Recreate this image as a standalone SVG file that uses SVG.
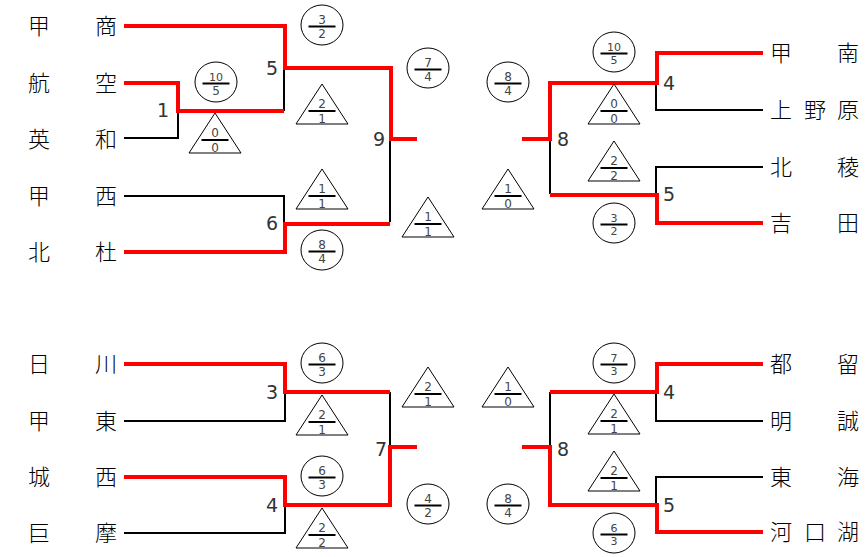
<svg xmlns="http://www.w3.org/2000/svg" width="865" height="557" viewBox="0 0 865 557">
<defs>
<style>
.bg{fill:#fff}
.red{fill:none;stroke:#f00;stroke-width:4;stroke-linejoin:miter}
.blk{fill:none;stroke:#000;stroke-width:2}
.nm{font-family:"Noto Sans CJK JP","Noto Sans CJK SC",sans-serif;font-size:22px;font-weight:300;fill:#000;text-anchor:middle}
.rd{font-family:"DejaVu Sans","Liberation Sans",sans-serif;font-size:19px;fill:#333}
.sh{fill:#fff;stroke:#000;stroke-width:1}
.fr{font-family:"DejaVu Sans","Liberation Sans",sans-serif;font-size:12px;fill:#444;text-anchor:middle}
.fs{font-size:11px}
.bar{stroke:#000;stroke-width:2}
</style>
<g id="circ"><ellipse class="sh" cx="0" cy="0" rx="21" ry="20"/><line class="bar" x1="-13.5" y1="1.5" x2="13.5" y2="1.5"/></g>
<g id="tri"><polygon class="sh" points="0,0 26,40 -26,40"/><line class="bar" x1="-13.5" y1="27" x2="13.5" y2="27"/></g>
</defs>
<rect class="bg" x="0" y="0" width="865" height="557"/>

<g id="connectors">
<path class="blk" d="M124,138 H178 V111"/>
<path class="blk" d="M284,68 V111"/>
<path class="blk" d="M124,196 H284 V224"/>
<path class="blk" d="M390,139 V222"/>
<path class="blk" d="M656,83 V110 H763"/>
<path class="blk" d="M550,139 V194"/>
<path class="blk" d="M763,167 H656 V195"/>
<path class="blk" d="M124,421 H285 V392"/>
<path class="blk" d="M124,533 H285 V505"/>
<path class="blk" d="M390,392 V447"/>
<path class="blk" d="M550,447 V392"/>
<path class="blk" d="M656,392 V421 H763"/>
<path class="blk" d="M763,477 H656 V504"/>

<path class="red" d="M124,26 H285 V68 H391 V139 H417"/>
<path class="red" d="M124,83 H178 V111 H284"/>
<path class="red" d="M124,252 H285 V224 H390"/>
<path class="red" d="M522,139 H550 V83 H657 V53 H763"/>
<path class="red" d="M550,195 H657 V223 H763"/>
<path class="red" d="M124,364 H285 V392 H390"/>
<path class="red" d="M124,477 H285 V505 H390 V447 H417"/>
<path class="red" d="M522,447 H550 V505 H657 V532 H763"/>
<path class="red" d="M550,392 H657 V364 H763"/>
</g>

<g id="round-labels">
<text class="rd" x="169" y="117" text-anchor="end">1</text>
<text class="rd" x="278" y="75" text-anchor="end">5</text>
<text class="rd" x="278" y="230" text-anchor="end">6</text>
<text class="rd" x="385" y="146" text-anchor="end">9</text>
<text class="rd" x="557" y="146">8</text>
<text class="rd" x="663" y="90">4</text>
<text class="rd" x="663" y="201">5</text>
<text class="rd" x="278" y="399" text-anchor="end">3</text>
<text class="rd" x="278" y="512" text-anchor="end">4</text>
<text class="rd" x="387" y="456" text-anchor="end">7</text>
<text class="rd" x="557" y="456">8</text>
<text class="rd" x="663" y="399">4</text>
<text class="rd" x="663" y="512">5</text>
</g>

<g id="team-kofu-sho"><text class="nm" x="39" y="34">甲</text><text class="nm" x="106" y="34">商</text></g>
<g id="team-koku"><text class="nm" x="39" y="91">航</text><text class="nm" x="106" y="91">空</text></g>
<g id="team-eiwa"><text class="nm" x="39" y="147">英</text><text class="nm" x="106" y="147">和</text></g>
<g id="team-kosai"><text class="nm" x="39" y="204">甲</text><text class="nm" x="106" y="204">西</text></g>
<g id="team-hokuto"><text class="nm" x="39" y="260">北</text><text class="nm" x="106" y="260">杜</text></g>
<g id="team-konan"><text class="nm" x="781" y="61">甲</text><text class="nm" x="848" y="61">南</text></g>
<g id="team-uenohara"><text class="nm" x="781" y="118">上</text><text class="nm" x="815" y="118">野</text><text class="nm" x="848" y="118">原</text></g>
<g id="team-hokuryo"><text class="nm" x="781" y="175">北</text><text class="nm" x="848" y="175">稜</text></g>
<g id="team-yoshida"><text class="nm" x="781" y="231">吉</text><text class="nm" x="848" y="231">田</text></g>
<g id="team-hikawa"><text class="nm" x="39" y="372">日</text><text class="nm" x="106" y="372">川</text></g>
<g id="team-koto"><text class="nm" x="39" y="429">甲</text><text class="nm" x="106" y="429">東</text></g>
<g id="team-josai"><text class="nm" x="39" y="485">城</text><text class="nm" x="106" y="485">西</text></g>
<g id="team-koma"><text class="nm" x="39" y="541">巨</text><text class="nm" x="106" y="541">摩</text></g>
<g id="team-tsuru"><text class="nm" x="781" y="372">都</text><text class="nm" x="848" y="372">留</text></g>
<g id="team-meisei"><text class="nm" x="781" y="429">明</text><text class="nm" x="848" y="429">誠</text></g>
<g id="team-tokai"><text class="nm" x="781" y="485">東</text><text class="nm" x="848" y="485">海</text></g>
<g id="team-kawaguchiko"><text class="nm" x="781" y="540">河</text><text class="nm" x="815" y="540">口</text><text class="nm" x="848" y="540">湖</text></g>

<!-- circles: translate to centre; triangles: translate to apex -->
<g id="s1" transform="translate(322,25)"><use href="#circ"/><text class="fr" y="-1.5">3</text><text class="fr" y="12.5">2</text></g>
<g id="s2" transform="translate(216,82)"><use href="#circ"/><text class="fr fs" y="-1.5">10</text><text class="fr" y="12.5">5</text></g>
<g id="s3" transform="translate(215,113)"><use href="#tri"/><text class="fr" y="24">0</text><text class="fr" y="39">0</text></g>
<g id="s4" transform="translate(322,84)"><use href="#tri"/><text class="fr" y="24">2</text><text class="fr" y="39">1</text></g>
<g id="s5" transform="translate(322,169)"><use href="#tri"/><text class="fr" y="24">1</text><text class="fr" y="39">1</text></g>
<g id="s6" transform="translate(322,250)"><use href="#circ"/><text class="fr" y="-1.5">8</text><text class="fr" y="12.5">4</text></g>
<g id="s7" transform="translate(428,68)"><use href="#circ"/><text class="fr" y="-1.5">7</text><text class="fr" y="12.5">4</text></g>
<g id="s8" transform="translate(428,197)"><use href="#tri"/><text class="fr" y="24">1</text><text class="fr" y="39">1</text></g>
<g id="s9" transform="translate(508,82)"><use href="#circ"/><text class="fr" y="-1.5">8</text><text class="fr" y="12.5">4</text></g>
<g id="s10" transform="translate(508,169)"><use href="#tri"/><text class="fr" y="24">1</text><text class="fr" y="39">0</text></g>
<g id="s11" transform="translate(614,52)"><use href="#circ"/><text class="fr fs" y="-1.5">10</text><text class="fr fs" y="12">5</text></g>
<g id="s12" transform="translate(614,84)"><use href="#tri"/><text class="fr" y="24">0</text><text class="fr" y="39">0</text></g>
<g id="s13" transform="translate(614,141)"><use href="#tri"/><text class="fr" y="24">2</text><text class="fr" y="39">2</text></g>
<g id="s14" transform="translate(614,223)"><use href="#circ"/><text class="fr fs" y="-1.5">3</text><text class="fr fs" y="12">2</text></g>

<g id="s15" transform="translate(322,363)"><use href="#circ"/><text class="fr" y="-1.5">6</text><text class="fr" y="12.5">3</text></g>
<g id="s16" transform="translate(322,395)"><use href="#tri"/><text class="fr" y="24">2</text><text class="fr" y="39">1</text></g>
<g id="s17" transform="translate(322,476)"><use href="#circ"/><text class="fr" y="-1.5">6</text><text class="fr" y="12.5">3</text></g>
<g id="s18" transform="translate(322,508)"><use href="#tri"/><text class="fr" y="24">2</text><text class="fr" y="39">2</text></g>
<g id="s19" transform="translate(428,367)"><use href="#tri"/><text class="fr" y="24">2</text><text class="fr" y="39">1</text></g>
<g id="s20" transform="translate(508,367)"><use href="#tri"/><text class="fr" y="24">1</text><text class="fr" y="39">0</text></g>
<g id="s21" transform="translate(428,504)"><use href="#circ"/><text class="fr" y="-1.5">4</text><text class="fr" y="12.5">2</text></g>
<g id="s22" transform="translate(508,504)"><use href="#circ"/><text class="fr" y="-1.5">8</text><text class="fr" y="12.5">4</text></g>
<g id="s23" transform="translate(614,363)"><use href="#circ"/><text class="fr fs" y="-1.5">7</text><text class="fr fs" y="12">3</text></g>
<g id="s24" transform="translate(614,394)"><use href="#tri"/><text class="fr" y="24">2</text><text class="fr" y="39">1</text></g>
<g id="s25" transform="translate(614,451)"><use href="#tri"/><text class="fr" y="24">2</text><text class="fr" y="39">1</text></g>
<g id="s26" transform="translate(614,533)"><use href="#circ"/><text class="fr fs" y="-1.5">6</text><text class="fr fs" y="12">3</text></g>
</svg>
